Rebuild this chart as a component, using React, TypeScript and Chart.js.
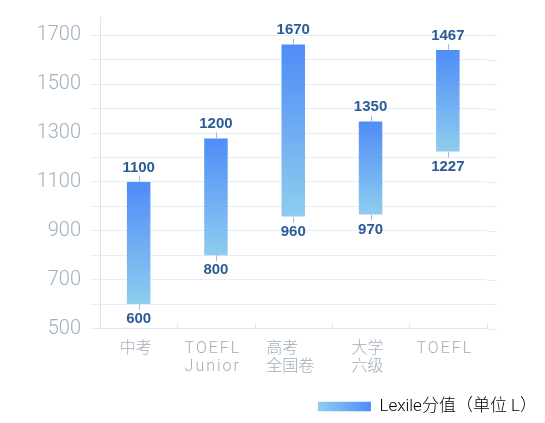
import { useEffect, useRef } from 'react';
import { Chart, registerables } from 'chart.js';

Chart.register(...registerables);

const categories: string[][] = [['中考'], ['TOEFL', 'Junior'], ['高考', '全国卷'], ['大学', '六级'], ['TOEFL']];
const barLows = [600, 800, 958, 967, 1224];
const barHighs = [1100, 1278, 1662, 1347, 1640];
const topLabels = ['1100', '1200', '1670', '1350', '1467'];
const bottomLabels = ['600', '800', '960', '970', '1227'];
const yTickValues = [500, 600, 700, 800, 900, 1000, 1100, 1200, 1300, 1400, 1500, 1600, 1700];
const yLabelValues = [500, 700, 900, 1100, 1300, 1500, 1700];
const legendLabel = 'Lexile分值（单位 L）';

const GRID = '#e2eef9';
const AXIS = '#d3e7f6';
const BLUE_TOP = '#4f8cf7';
const BLUE_BOTTOM = '#8ecdee';
const VALUE_COLOR = '#2b5c98';
const LIGHT_FONT = "Roboto, 'Noto Sans CJK SC', sans-serif";
const BOLD_FONT = "'Liberation Sans', Arial, sans-serif";

const overlayPlugin = {
  id: 'overlay',
  beforeDraw(chart: any) {
    const legend = chart.legend;
    if (legend && legend.legendHitBoxes && legend.legendHitBoxes[0] && legend.legendItems && legend.legendItems[0]) {
      const hb = legend.legendHitBoxes[0];
      const bw = legend.options.labels.boxWidth;
      const g = chart.ctx.createLinearGradient(hb.left, 0, hb.left + bw, 0);
      g.addColorStop(0, BLUE_BOTTOM);
      g.addColorStop(1, BLUE_TOP);
      legend.legendItems[0].fillStyle = g;
    }
  },
  beforeDatasetsDraw(chart: any) {
    const { ctx, chartArea, scales } = chart;
    const y = scales.y;
    const x = scales.x;
    ctx.save();
    ctx.lineWidth = 1;
    ctx.strokeStyle = GRID;
    y.ticks.forEach((t: any) => {
      const py = Math.round(y.getPixelForValue(t.value)) + 0.5;
      ctx.beginPath();
      ctx.moveTo(chartArea.right, py);
      ctx.lineTo(chartArea.right + 10.5, py);
      ctx.stroke();
    });
    ctx.strokeStyle = AXIS;
    const half = (x.getPixelForValue(1) - x.getPixelForValue(0)) / 2;
    categories.forEach((_, i) => {
      const px = Math.round(x.getPixelForValue(i) + half) + 0.5;
      ctx.beginPath();
      ctx.moveTo(px, chartArea.bottom);
      ctx.lineTo(px, chartArea.bottom - 5);
      ctx.stroke();
    });
    ctx.restore();
  },
  afterDatasetsDraw(chart: any) {
    const { ctx } = chart;
    const meta = chart.getDatasetMeta(0);
    ctx.save();
    ctx.font = `bold 15px ${BOLD_FONT}`;
    ctx.textAlign = 'center';
    ctx.textBaseline = 'middle';
    meta.data.forEach((bar: any, i: number) => {
      const { x, y, base } = bar.getProps(['x', 'y', 'base'], true);
      const top = Math.min(y, base);
      const bottom = Math.max(y, base);
      ctx.strokeStyle = '#9bbbe0';
      ctx.lineWidth = 1;
      const px = Math.round(x) + 0.5;
      ctx.beginPath();
      ctx.moveTo(px, top);
      ctx.lineTo(px, top - 6);
      ctx.moveTo(px, bottom);
      ctx.lineTo(px, bottom + 6);
      ctx.stroke();
      ctx.fillStyle = VALUE_COLOR;
      ctx.fillText(topLabels[i], x, top - 14.5);
      ctx.fillText(bottomLabels[i], x, bottom + 15);
    });
    ctx.restore();
  },
  afterDraw(chart: any) {
    const { ctx, chartArea, scales } = chart;
    const x = scales.x;
    ctx.save();
    ctx.font = `300 16px ${LIGHT_FONT}`;
    ctx.fillStyle = '#a2adb9';
    ctx.textAlign = 'left';
    ctx.textBaseline = 'middle';
    const spacingFor = (l: string) => (/^[A-Za-z]/.test(l) ? '2px' : '0px');
    categories.forEach((lines, i) => {
      const cx = x.getPixelForValue(i) - 3;
      const widths = lines.map((l) => {
        (ctx as any).letterSpacing = spacingFor(l);
        return ctx.measureText(l).width;
      });
      const w = Math.max(...widths);
      lines.forEach((l, j) => {
        (ctx as any).letterSpacing = spacingFor(l);
        ctx.fillText(l, cx - w / 2, chartArea.bottom + 20 + j * 18.4);
      });
    });
    (ctx as any).letterSpacing = '0px';
    ctx.restore();
  },
};

export default function App() {
  const ref = useRef<HTMLCanvasElement | null>(null);

  useEffect(() => {
    if (!ref.current) return;
    const chart = new Chart(ref.current, {
      type: 'bar',
      data: {
        labels: categories.map((c) => c.join(' ')),
        datasets: [
          {
            label: legendLabel,
            data: barLows.map((lo, i) => [lo, barHighs[i]]) as any,
            backgroundColor: (c: any) => {
              const chartRef = c.chart;
              const ys = chartRef.scales && chartRef.scales.y;
              if (!ys || c.dataIndex === undefined) return BLUE_TOP;
              const t = ys.getPixelForValue(barHighs[c.dataIndex]);
              const b = ys.getPixelForValue(barLows[c.dataIndex]);
              if (!isFinite(t) || !isFinite(b) || t === b) return BLUE_TOP;
              const g = chartRef.ctx.createLinearGradient(0, t, 0, b);
              g.addColorStop(0, BLUE_TOP);
              g.addColorStop(1, BLUE_BOTTOM);
              return g;
            },
            borderWidth: 0,
            borderSkipped: false,
            barPercentage: 0.304,
            categoryPercentage: 1,
          },
        ],
      },
      options: {
        responsive: false,
        animation: false,
        layout: { padding: { top: 17, right: 0, bottom: -2, left: 0 } },
        scales: {
          x: {
            offset: true,
            grid: { display: false, drawTicks: false },
            border: { display: true, color: AXIS, width: 1 },
            ticks: { display: false },
            afterFit: (s: any) => {
              s.height = 61.5;
            },
          },
          y: {
            min: 500,
            max: 1775,
            afterBuildTicks: (s: any) => {
              s.ticks = yTickValues.map((v) => ({ value: v }));
            },
            grid: { color: GRID, lineWidth: 1, drawTicks: true, tickLength: 9, tickColor: GRID },
            border: { display: true, color: AXIS, width: 1 },
            ticks: {
              autoSkip: false,
              padding: 10,
              color: '#a0b0bf',
              font: { size: 20, family: LIGHT_FONT, weight: 300 as any },
              callback: (v: any) => (yLabelValues.includes(Number(v)) ? String(v) : ''),
            },
            afterFit: (s: any) => {
              s.width = 100;
              s.paddingTop = 0;
              s.paddingBottom = 0;
            },
          },
          y2: {
            position: 'right',
            display: true,
            grid: { display: false, drawTicks: false },
            border: { display: false },
            ticks: { display: false },
            afterFit: (s: any) => {
              s.width = 58.5;
              s.paddingTop = 0;
              s.paddingBottom = 0;
            },
          },
        },
        plugins: {
          tooltip: { enabled: false },
          legend: {
            display: true,
            position: 'bottom',
            align: 'end',
            labels: {
              boxWidth: 53,
              boxHeight: 9.5,
              padding: 8,
              color: '#8a96a3',
              font: { size: 17, family: LIGHT_FONT, weight: 300 as any },
              generateLabels: () => [
                {
                  text: legendLabel,
                  fillStyle: BLUE_TOP,
                  strokeStyle: 'rgba(0,0,0,0)',
                  lineWidth: 0,
                  hidden: false,
                  datasetIndex: 0,
                } as any,
              ],
            },
          },
        },
      },
      plugins: [overlayPlugin],
    });
    return () => chart.destroy();
  }, []);

  return (
    <div style={{ position: 'absolute', left: 0, top: 0, width: 545, height: 423, background: '#ffffff' }}>
      <canvas ref={ref} width={545} height={423} style={{ display: 'block', width: 545, height: 423 }} />
    </div>
  );
}
